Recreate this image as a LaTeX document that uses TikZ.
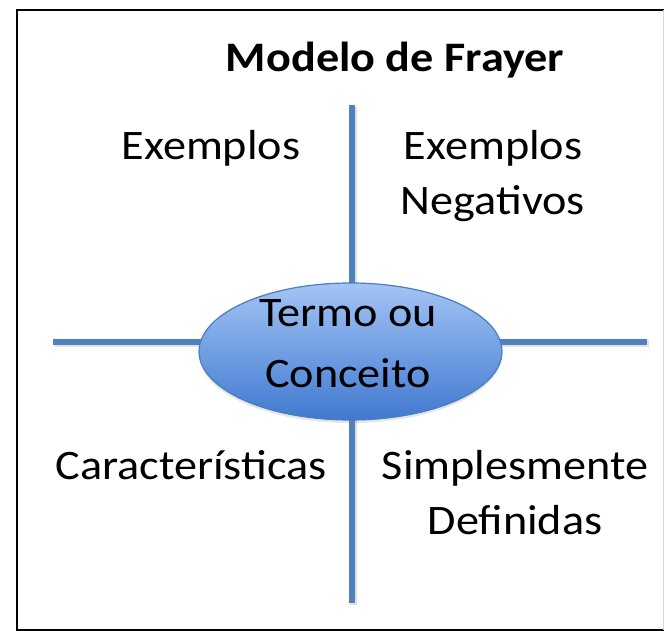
\documentclass[tikz,border=0pt]{standalone}
\usepackage{fontspec}
\setmainfont{Carlito}[FakeStretch=1.1]
\usetikzlibrary{shapes.geometric,shadows}
\definecolor{lineblue}{HTML}{4F81BD}
\definecolor{elltop}{HTML}{A3C4F5}
\definecolor{ellbot}{HTML}{4079D0}
\definecolor{ellborder}{HTML}{4A7EBB}
\tikzset{
  axisline/.style={draw=lineblue, line width=6pt},
  axisshadow/.style={draw=black, opacity=0.12, line width=7pt},
  lbl/.style={font=\fontsize{42}{55}\selectfont, align=center, anchor=base, inner sep=0pt},
  ttl/.style={font=\fontsize{42}{55}\selectfont\bfseries, anchor=base, inner sep=0pt},
  concept/.style={ellipse, draw=ellborder, line width=1.2pt, top color=elltop, bottom color=ellbot,
    minimum width=303pt, minimum height=137pt, inner sep=0pt,
    drop shadow={shadow xshift=0pt, shadow yshift=-3pt, opacity=0.2}}
}
\begin{document}
\begin{tikzpicture}[x=1pt,y=1pt]
\useasboundingbox (0,0) rectangle (664,631);
% frame
\draw[black, line width=2pt] (666,621) -- (17,621) -- (17,1) -- (666,1);
\draw[black!15, line width=1pt] (663,621) -- (663,1);
% axes
\coordinate (vtop) at (352,526);
\coordinate (vbot) at (352,28);
\coordinate (hleft) at (53,289);
\coordinate (hright) at (647,289);
\draw[axisshadow] ([shift={(1.5,-2)}]vtop) -- ([shift={(1.5,-2)}]vbot);
\draw[axisshadow] ([shift={(1.5,-2)}]hleft) -- ([shift={(1.5,-2)}]hright);
\draw[axisline] (vtop) -- (vbot);
\draw[axisline] (hleft) -- (hright);
% concept
\node[concept] (term) at (350.5,279.5) {};
\node[lbl, font=\fontsize{42}{61}\selectfont] (termtext) at (348,243) {Termo ou\\Conceito};
% labels
\node[ttl] (title) at (395,559) {Modelo de Frayer};
\node[lbl] (ex) at (211,471) {Exemplos};
\node[lbl] (exneg) at (493,416) {Exemplos\\Negativos};
\node[lbl] (car) at (191,151) {Características};
\node[lbl] (simp) at (515,96) {Simplesmente\\Definidas};
\end{tikzpicture}
\end{document}
